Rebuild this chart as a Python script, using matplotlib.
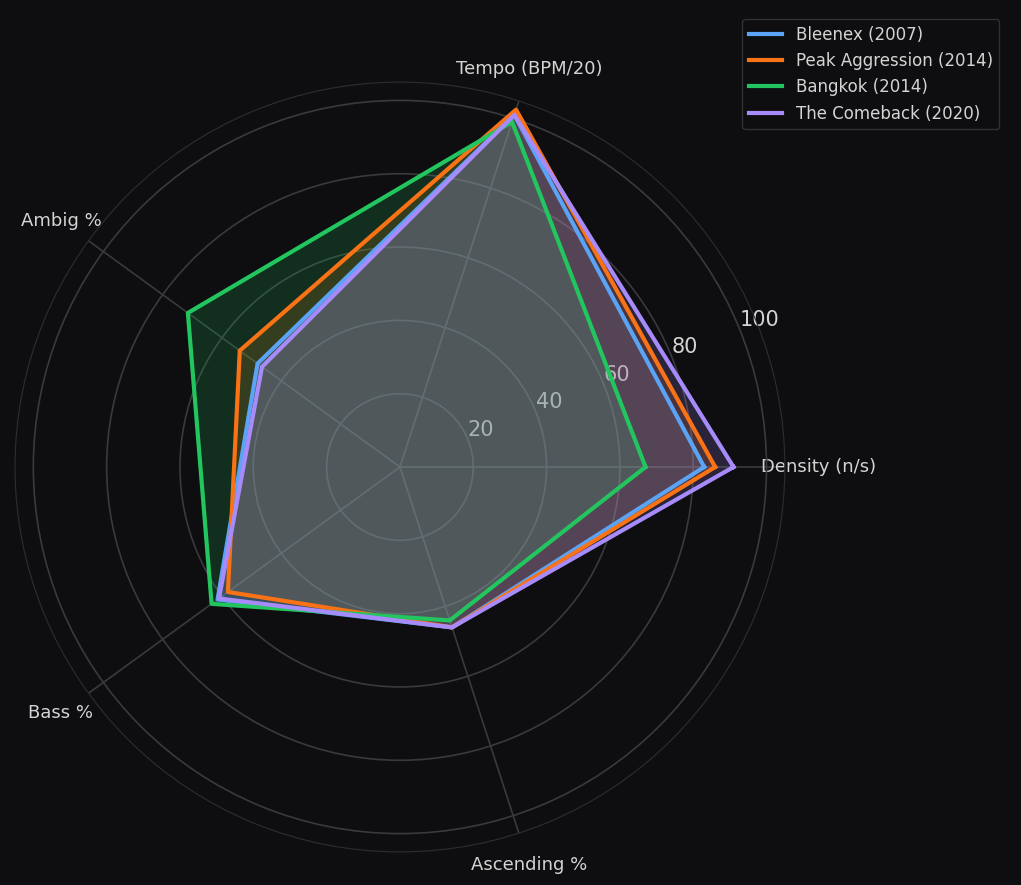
import numpy as np
import matplotlib
matplotlib.use("Agg")
import matplotlib.pyplot as plt

# Axes and series
axes_labels = ["Density (n/s)", "Tempo (BPM/20)", "Ambig %", "Bass %", "Ascending %"]
series_names = ["Bleenex (2007)", "Peak Aggression (2014)", "Bangkok (2014)", "The Comeback (2020)"]
bleenex = [83, 101, 48, 61.5, 46]
peak = [86, 102.5, 54, 58, 46]
bangkok = [67, 99, 71.5, 63.5, 44]
comeback = [91, 101, 46.5, 61, 46]
colors = ["#5ba3f5", "#f97316", "#22c55e", "#a78bfa"]

BG = "#0e0e10"
TXT = "#d4d4d4"

angles = np.deg2rad(np.arange(5) * 72.0)
closed = np.append(angles, angles[0])

fig = plt.figure(figsize=(10.21, 8.85), dpi=100, facecolor=BG)
ax = fig.add_axes([0.0147, 0.0373, 0.754, 0.870], projection="polar")
ax.set_facecolor(BG)

for name, vals, c in zip(series_names, [bleenex, peak, bangkok, comeback], colors):
    v = np.append(vals, vals[0])
    ax.plot(closed, v, color=c, linewidth=3, label=name, zorder=3)
    ax.fill(closed, v, color=c, alpha=0.18, zorder=2)

ax.set_ylim(0, 105)
ax.set_yticks([20, 40, 60, 80, 100])
ax.set_yticklabels(["20", "40", "60", "80", "100"], color=TXT, fontsize=15)
ax.set_rlabel_position(22)
ax.set_xticks(angles)
ax.set_xticklabels(axes_labels, color=TXT, fontsize=13)
ax.tick_params(axis="x", pad=14)
ax.grid(color="#3a3a3e", linewidth=1.2)
ax.spines["polar"].set_color("#2e2e32")

leg = fig.legend(loc="upper right", bbox_to_anchor=(0.987, 0.988), fontsize=12,
                 facecolor=BG, edgecolor="#3a3a3e", labelcolor=TXT)

fig.savefig("out.png", dpi=100, facecolor=BG)
